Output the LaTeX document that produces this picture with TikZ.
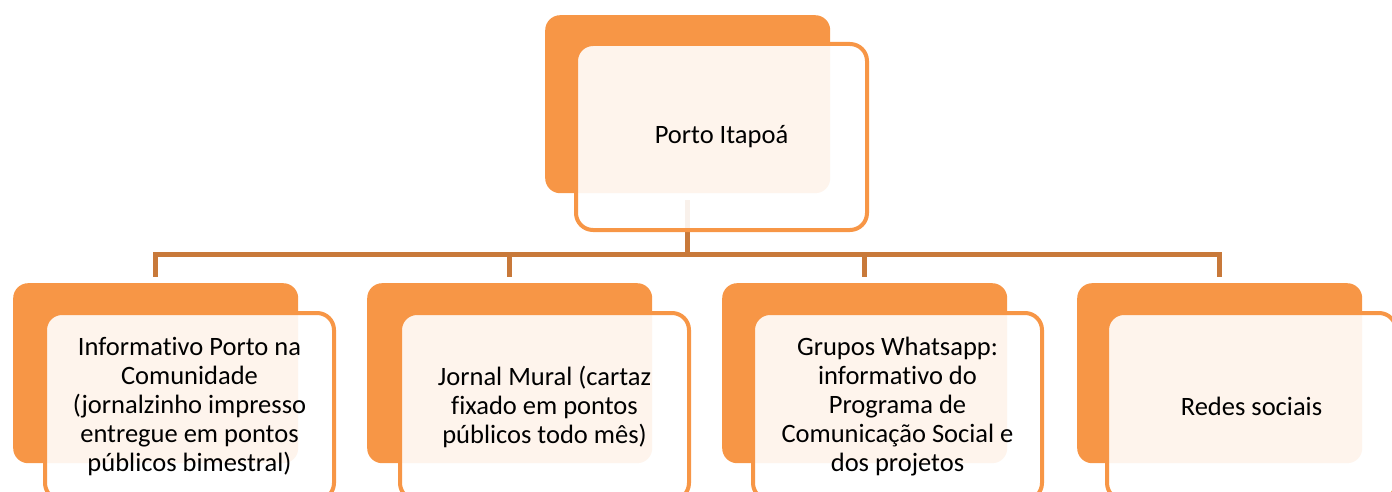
\documentclass[tikz,border=0pt]{standalone}
\usepackage{fontspec}
\setmainfont[Ligatures=NoCommon]{Carlito}
\definecolor{boxorange}{HTML}{F79646}
\definecolor{linkorange}{HTML}{C8793A}
\tikzset{
  backbox/.style={fill=boxorange, rounded corners=15pt, inner sep=0pt, anchor=north west,
    minimum width=285pt, minimum height=180pt},
  frontbox/.style={draw=boxorange, line width=4pt, fill=white, fill opacity=0.9, text opacity=1,
    rounded corners=17pt, inner sep=0pt, anchor=north west, align=center,
    minimum width=289pt, minimum height=187pt,
    font=\fontsize{26.5}{29}\selectfont},
  link/.style={draw=linkorange, line width=4.5pt, shorten <=7pt, shorten >=6pt}
}
\begin{document}
\begin{tikzpicture}[x=1pt,y=-1pt]
\useasboundingbox (0,0) rectangle (1392,492);
\begin{scope}
\clip (0,0) rectangle (1392,492);
% back boxes
\node[backbox, minimum height=178pt] (topback) at (545,15) {};
\node[backbox] (b1) at (13,283) {};
\node[backbox] (b2) at (367,283) {};
\node[backbox] (b3) at (722,283) {};
\node[backbox] (b4) at (1077,283) {};
% connectors
\foreach \b in {b1,b2,b3,b4}
  \draw[link] (topback.south) -- ++(0,61) -| (\b.north);
% front boxes
\node[frontbox, minimum width=291pt, minimum height=186pt] (top) at (574,42) {Porto Itapoá};
\node[frontbox] (f1) at (43,311) {Informativo Porto na\\Comunidade\\(jornalzinho impresso\\entregue em pontos\\públicos bimestral)};
\node[frontbox] (f2) at (398,311) {Jornal Mural (cartaz\\fixado em pontos\\públicos todo mês)};
\node[frontbox] (f3) at (751,311) {Grupos Whatsapp:\\informativo do\\Programa de\\Comunicação Social e\\dos projetos};
\node[frontbox] (f4) at (1105,311) {Redes sociais};
\end{scope}
\end{tikzpicture}
\end{document}
